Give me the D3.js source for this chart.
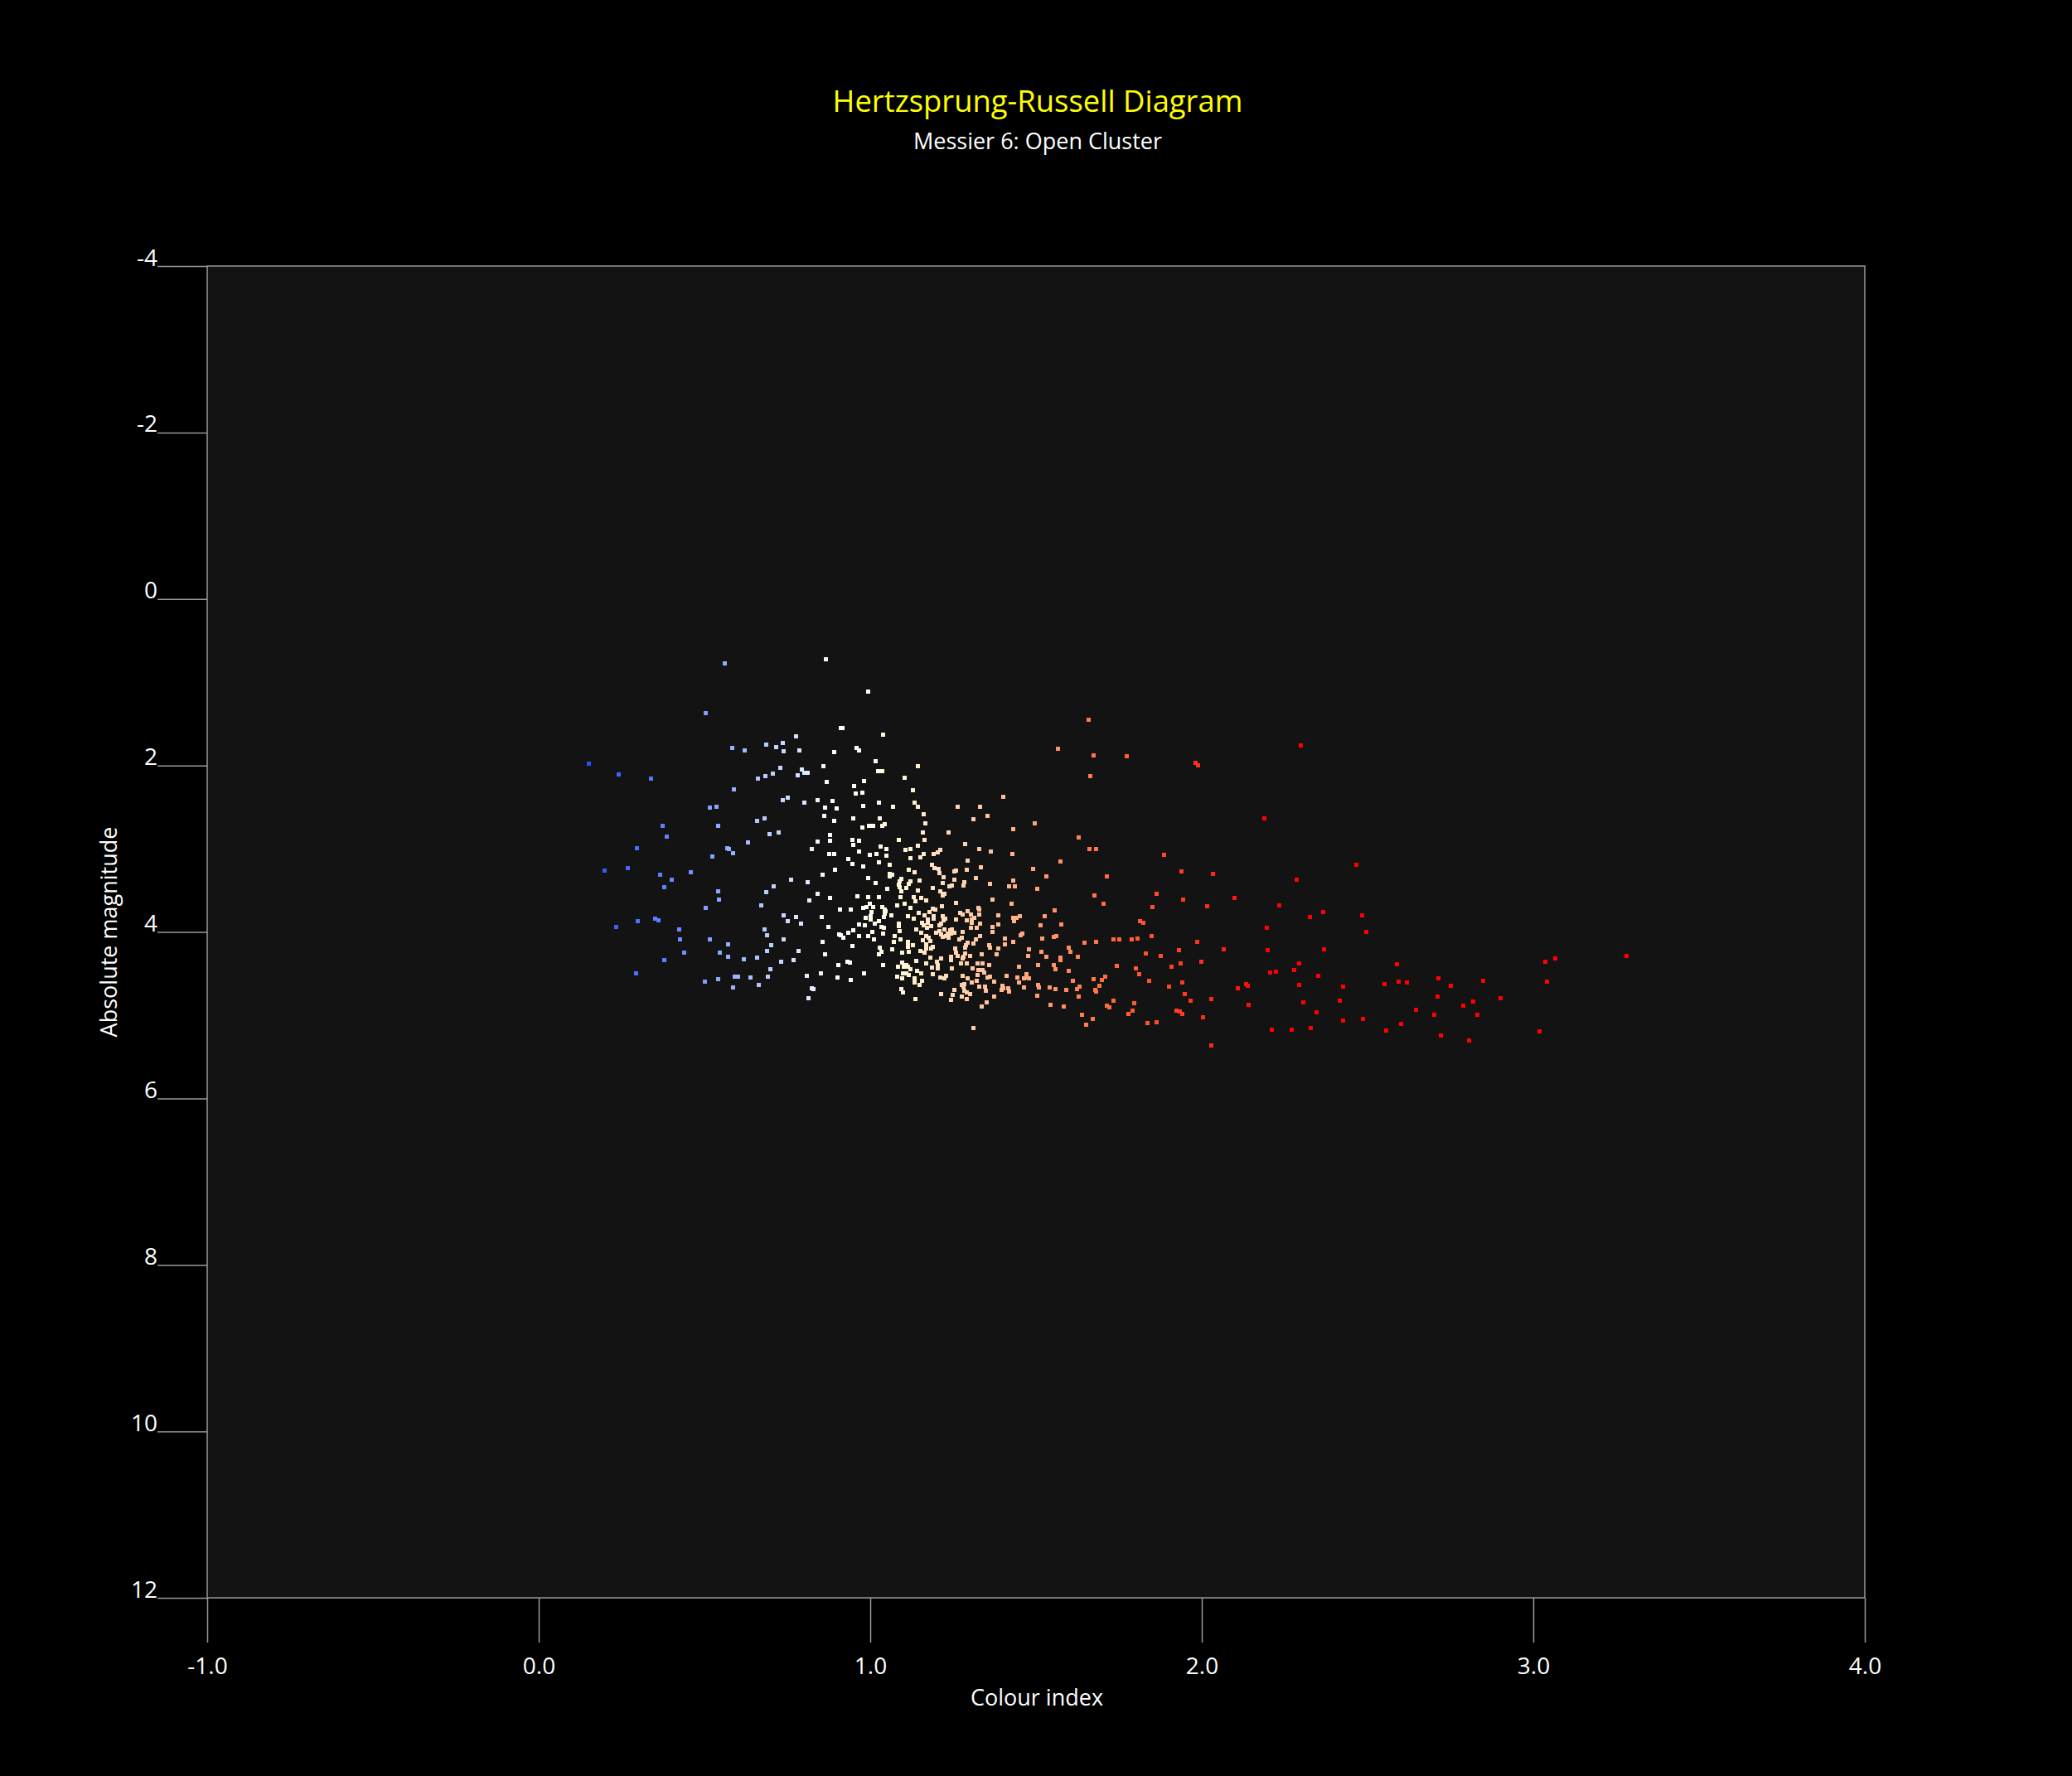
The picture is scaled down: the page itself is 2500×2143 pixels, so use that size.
<!DOCTYPE html>
<html>
<head>
<meta charset="utf-8">
<script src="https://cdn.jsdelivr.net/npm/d3@7"></script>
<style>
  html, body { margin: 0; padding: 0; background: #000; }
  text { font-family: "Open Sans", sans-serif; fill: #fff; }
</style>
</head>
<body>
<div id="chart"></div>
<script>
const titleText = "Hertzsprung-Russell Diagram"
const subtitleText = "Messier 6: Open Cluster"
const xLabelText = "Colour index"
const yLabelText = "Absolute magnitude"

const xTicks = [-1, 0, 1, 2, 3, 4]
const xTickLabels = ["-1.0", "0.0", "1.0", "2.0", "3.0", "4.0"]
const yTicks = [-4, -2, 0, 2, 4, 6, 8, 10, 12]
const yTickLabels = ["-4", "-2", "0", "2", "4", "6", "8", "10", "12"]

// colour index -> star colour
const colourStops = [0, 0.5, 0.9, 1.1, 1.4, 1.7, 2.2]
const colourValues = ["#0030ff", "#7c9cff", "#ffffff", "#fff5d8", "#ffb890", "#ff7040", "#ff0000"]

// [colour index, absolute magnitude]
const stars = [
[.561,.775],[.866,.729],[.993,1.114],[.503,1.373],[.911,1.552],[.917,1.555],[1.038,1.635],[.775,1.652],[.736,1.731],[.686,1.748],
[.717,1.778],[.739,1.834],[.785,1.817],[.583,1.788],[.620,1.817],[.891,1.841],[.959,1.788],[.967,1.824],[1.016,1.944],[.152,1.977],
[.241,2.113],[.339,2.156],[.858,2.007],[1.024,2.066],[1.035,2.066],[.794,2.050],[.801,2.090],[.811,2.086],[.781,2.120],[.728,2.030],
[.707,2.096],[.683,2.133],[.661,2.156],[.868,2.193],[.981,2.186],[.951,2.246],[.955,2.339],[.977,2.329],[.589,2.285],[.737,2.415],
[.752,2.392],[.800,2.451],[.842,2.418],[.885,2.422],[.863,2.504],[.898,2.518],[.979,2.491],[1.025,2.451],[1.069,2.498],[.516,2.511],
[.537,2.495],[.861,2.607],[.891,2.670],[.949,2.634],[1.028,2.631],[1.037,2.724],[1.044,2.707],[.996,2.724],[1.008,2.724],[.977,2.743],
[.682,2.631],[.659,2.670],[.373,2.730],[.542,2.730],[.386,2.853],[.723,2.803],[.696,2.823],[.879,2.836],[.946,2.896],[.965,2.909],
[.878,2.903],[.842,2.913],[.631,2.926],[.948,2.956],
[.296,2.992],[.569,2.992],[.574,3.009],[.586,3.055],[.824,3.009],[.876,3.062],[.891,3.062],[.967,3.039],[1.030,2.976],[1.049,3.009],
[.999,3.075],[1.018,3.069],[1.048,3.085],[.523,3.092],[.934,3.125],[.946,3.181],[.979,3.211],[1.025,3.168],[1.058,3.198],[.268,3.234],
[.198,3.264],[.458,3.281],[.366,3.317],[.402,3.377],[.379,3.467],[.540,3.513],[.544,3.610],[.503,3.709],[.686,3.527],[.709,3.454],
[.762,3.377],[.811,3.400],[.855,3.317],[.894,3.251],[.993,3.351],[1.015,3.417],[1.059,3.307],[1.067,3.317],[1.058,3.337],[1.051,3.487],
[.841,3.543],[.879,3.590],[.815,3.619],[.960,3.573],[.993,3.583],[1.026,3.583],[.671,3.683],[.998,3.663],[.979,3.709],[.989,3.702],
[1.009,3.702],[1.037,3.702],[1.044,3.729],[1.047,3.756],[1.043,3.782],[1.042,3.819],[.908,3.729],[.941,3.729],[1.003,3.766],[1.001,3.815],
[1.001,3.852],[.985,3.832],[1.063,3.805],[.739,3.802],[.777,3.819],[.853,3.825],[.751,3.868],[.791,3.905],[1.025,3.872],[1.013,3.898],
[.966,3.908],[.983,3.921],[.873,3.945],[.351,3.839],[.360,3.858],[.298,3.868],[.233,3.945],[.424,3.968],[.427,4.094],[.515,4.087],
[.681,3.975],[.688,4.041],[.739,4.094],[1.033,3.945],[1.040,3.951],[.948,3.981],[.933,4.011],[.905,4.034],[.911,4.044],[.919,4.071],
[1.006,3.998],[1.038,4.018],[.966,4.051],[.993,4.051],[1.010,4.087],[1.073,4.051],[1.070,4.124],[.857,4.124],[.570,4.147],[.701,4.164],
[.946,4.170],[1.029,4.187],[1.065,4.213],[1.034,4.240],[1.025,4.270],[.688,4.230],[.783,4.230],[.546,4.253],[.438,4.247],[.864,4.270],
[.571,4.300],[.658,4.313],[.618,4.330],[.378,4.336],[.731,4.360],[.769,4.336],[.930,4.356],[.938,4.366],[.903,4.403],[1.038,4.403],
[.698,4.449],[.294,4.502],[.851,4.502],[.982,4.496],[.808,4.532],[.692,4.539],[.638,4.552],[.591,4.539],[.602,4.539],[.902,4.552],
[.942,4.575],[.542,4.569],[.500,4.599],[.663,4.638],[.586,4.668],[.823,4.681],[.828,4.688],[.813,4.794],
[1.106,3.019],[1.121,3.009],[1.143,2.969],[1.190,3.062],[1.203,3.049],[1.211,3.019],[1.161,3.065],[1.152,3.102],[1.121,3.115],[1.328,3.009],
[1.364,3.039],[1.428,3.062],[1.662,3.002],[1.681,3.002],[1.293,3.145],[1.573,3.151],[1.186,3.198],[1.194,3.234],[1.206,3.248],[1.208,3.291],
[1.333,3.221],[1.290,3.258],[1.254,3.278],[1.259,3.268],[1.491,3.248],[1.116,3.258],[1.133,3.288],[1.531,3.331],[1.714,3.331],[1.220,3.347],
[1.319,3.351],[1.253,3.371],[1.148,3.384],[1.093,3.364],[1.088,3.390],[1.087,3.430],[1.088,3.467],[1.093,3.510],[1.122,3.394],[1.117,3.424],
[1.108,3.470],[1.218,3.410],[1.361,3.420],[1.284,3.407],[1.281,3.440],[1.246,3.447],[1.239,3.457],[1.430,3.387],[1.418,3.454],[1.437,3.454],
[1.504,3.483],[1.188,3.473],[1.144,3.500],[1.211,3.513],[1.223,3.540],[1.219,3.560],[1.677,3.566],[1.091,3.583],[1.131,3.583],[1.153,3.593],
[1.137,3.629],[1.168,3.623],[1.368,3.610],[1.103,3.659],[1.082,3.683],[1.258,3.656],[1.427,3.666],[1.703,3.666],[1.122,3.709],[1.216,3.696],
[1.326,3.712],[1.328,3.729],[1.189,3.719],[1.196,3.736],[1.555,3.742],[1.146,3.772],[1.178,3.759],[1.272,3.769],[1.294,3.749],[1.303,3.789],
[1.279,3.789],[1.328,3.792],[1.387,3.802],[1.163,3.799],[1.191,3.809],[1.190,3.842],[1.218,3.812],[1.226,3.839],[1.222,3.862],[1.525,3.809],
[1.113,3.815],[1.131,3.839],[1.173,3.855],[1.173,3.888],[1.156,3.888],[1.161,3.921],[1.183,3.928],[1.171,3.955],[1.258,3.855],[1.292,3.865],
[1.313,3.832],[1.307,3.855],[1.306,3.895],[1.431,3.829],[1.441,3.835],[1.451,3.812],[1.434,3.875],[1.086,3.898],[1.086,3.931],[1.331,3.902],
[1.385,3.915],[1.514,3.921],[1.577,3.915],[1.213,3.905],[1.209,3.921],[1.369,3.938],[1.139,3.968],[1.223,3.975],[1.304,3.955],[1.320,3.948],
[1.088,3.991],[1.153,4.011],[1.198,4.008],[1.208,3.994],[1.213,4.028],[1.219,4.064],[1.229,4.054],[1.233,4.021],[1.240,3.981],[1.246,3.971],
[1.244,4.021],[1.235,4.071],[1.253,4.008],[1.278,3.998],[1.368,3.998],[1.454,4.038],[1.458,4.018],[1.169,4.048],[1.176,4.071],[1.180,4.114],
[1.159,4.097],[1.169,4.147],[1.091,4.094],[1.276,4.067],[1.269,4.087],[1.331,4.051],[1.318,4.094],[1.311,4.141],[1.293,4.127],[1.288,4.164],
[1.287,4.194],[1.406,4.081],[1.405,4.147],[1.430,4.117],[1.519,4.081],[1.554,4.064],[1.561,4.051],[1.647,4.127],[1.682,4.117],[1.113,4.121],
[1.113,4.154],[1.114,4.180],[1.129,4.164],[1.168,4.197],[1.183,4.197],[1.189,4.180],[1.358,4.160],[1.361,4.194],[1.387,4.197],[1.095,4.247],
[1.116,4.240],[1.152,4.227],[1.163,4.253],[1.256,4.204],[1.259,4.247],[1.263,4.293],[1.285,4.260],[1.282,4.300],[1.278,4.320],[1.300,4.293],
[1.336,4.267],[1.381,4.270],[1.478,4.210],[1.517,4.240],[1.476,4.287],[1.531,4.300],[1.598,4.194],[1.603,4.240],[1.626,4.300],[1.573,4.313],
[1.573,4.336],[1.180,4.306],[1.213,4.323],[1.244,4.303],[1.244,4.336],[1.138,4.346],[1.202,4.363],[1.204,4.403],[1.204,4.436],[1.097,4.370],
[1.169,4.383],[1.273,4.376],[1.290,4.376],[1.324,4.383],[1.339,4.383],[1.358,4.399],[1.449,4.419],[1.506,4.396],[1.553,4.399],[1.558,4.446],
[1.084,4.423],[1.100,4.423],[1.108,4.396],[1.114,4.419],[1.122,4.453],[1.186,4.429],[1.141,4.466],[1.247,4.443],[1.309,4.443],[1.325,4.462],
[1.339,4.456],[1.344,4.489],[1.598,4.472],[1.153,4.496],[1.098,4.502],[1.108,4.502],[1.117,4.516],[1.189,4.506],[1.278,4.526],[1.323,4.519],
[1.412,4.526],[1.470,4.506],[1.353,4.552],[1.362,4.539],[1.708,4.539],[1.082,4.539],[1.095,4.562],[1.133,4.555],[1.229,4.526],[1.212,4.549],
[1.223,4.562],[1.293,4.559],[1.443,4.549],[1.464,4.562],[1.471,4.552],[1.478,4.562],[1.673,4.572],[1.698,4.579],[1.612,4.585],[1.156,4.585],
[1.133,4.609],[1.148,4.635],[1.321,4.585],[1.305,4.609],[1.373,4.595],[1.449,4.609],[1.283,4.628],[1.275,4.642],[1.280,4.655],[1.506,4.635],
[1.692,4.652],[1.328,4.662],[1.347,4.662],[1.349,4.708],[1.399,4.645],[1.402,4.678],[1.397,4.698],[1.417,4.678],[1.418,4.715],[1.464,4.668],
[1.508,4.672],[1.540,4.668],[1.558,4.685],[1.591,4.701],[1.623,4.691],[1.631,4.662],[1.679,4.695],[1.681,4.718],[1.093,4.685],[1.098,4.731],
[1.254,4.698],[1.283,4.708],[1.292,4.728],[1.302,4.745],[1.214,4.745],[1.248,4.758],[1.275,4.775],[1.290,4.804],[1.243,4.818],[1.135,4.811],
[1.373,4.781],[1.504,4.764],[1.629,4.778],[1.351,4.844],[1.336,4.901],[1.543,4.874],[1.583,4.894],[1.713,4.891],[1.722,4.904],[1.638,4.994],
[1.671,5.047],[1.652,5.113],[1.311,5.153],
[1.658,1.456],[1.565,1.804],[1.673,1.881],[1.773,1.887],[1.982,1.970],[1.988,1.997],[1.663,2.133],[1.144,2.007],[1.103,2.146],[1.129,2.299],
[1.401,2.382],[1.133,2.451],[1.144,2.498],[1.264,2.498],[1.332,2.498],[1.353,2.607],[1.311,2.641],[1.161,2.587],[1.165,2.697],[1.159,2.803],
[1.235,2.807],[1.431,2.767],[1.495,2.697],[1.629,2.860],[1.086,2.896],[1.163,2.896],[1.286,2.943],
[1.885,3.072],[2.466,3.191],[1.938,3.274],[2.034,3.301],[2.287,3.371],[1.863,3.543],[1.944,3.610],[2.099,3.596],[2.233,3.679],[1.851,3.702],
[2.016,3.696],[2.366,3.762],[2.326,3.822],[2.483,3.802],[2.196,3.951],[2.497,4.004],[1.813,3.868],[1.823,3.888],[1.733,4.087],[1.751,4.094],
[1.788,4.094],[1.806,4.077],[1.848,4.051],[1.985,4.117],[2.199,4.220],[1.930,4.223],[2.066,4.207],[2.369,4.210],[1.831,4.260],[1.875,4.287],
[1.937,4.376],[1.998,4.356],[1.743,4.413],[1.800,4.436],[1.908,4.419],[2.294,4.376],[1.811,4.509],[2.278,4.456],[2.206,4.489],[2.223,4.479],
[2.351,4.532],[1.842,4.592],[1.942,4.609],[1.900,4.662],[2.108,4.678],[2.133,4.628],[2.139,4.652],[2.293,4.638],[2.426,4.662],[1.949,4.751],
[1.733,4.824],[1.796,4.854],[1.967,4.824],[2.028,4.804],[2.417,4.824],[2.307,4.844],[1.790,4.947],[1.778,4.984],[1.924,4.947],[1.933,4.960],
[1.942,4.987],[2.140,4.881],[2.347,4.967],[2.004,5.030],[1.836,5.096],[1.863,5.090],[2.426,5.067],[2.487,5.047],[2.211,5.179],[2.271,5.173],
[2.328,5.159],[2.028,5.362],
[2.588,4.386],[2.713,4.555],[3.281,4.290],[3.065,4.320],[3.037,4.360],[2.551,4.625],[2.593,4.599],[2.619,4.609],[2.849,4.592],[3.040,4.602],
[2.751,4.648],[2.711,4.781],[2.818,4.834],[2.900,4.798],[2.788,4.887],[2.646,4.940],[2.701,4.994],[2.830,5.000],[2.601,5.106],[2.556,5.183],
[2.720,5.242],[2.807,5.302],[3.018,5.196],[2.298,1.757],[2.188,2.640]
]

const width = 2500
const height = 2143
const plot = {left: 250, right: 2250, top: 321, bottom: 1928}
const tickFont = 28
const starSize = 5

let svg = d3.select("#chart").append("svg")
    .attr("width", width)
    .attr("height", height)
    .style("display", "block")

let x = d3.scaleLinear().domain([-1, 4]).range([plot.left, plot.right])
let y = d3.scaleLinear().domain([-4, 12]).range([plot.top, plot.bottom])
let colour = d3.scaleLinear().domain(colourStops).range(colourValues).clamp(true)

svg.append("rect")
    .attr("x", plot.left)
    .attr("y", plot.top)
    .attr("width", plot.right - plot.left)
    .attr("height", plot.bottom - plot.top)
    .attr("fill", "#131313")

let xAxis = svg.append("g")
    .attr("transform", `translate(0,${plot.bottom})`)
    .call(d3.axisBottom(x).tickValues(xTicks).tickSize(54).tickFormat((d, i) => xTickLabels[i]))
xAxis.select(".domain").remove()
xAxis.selectAll("line").attr("stroke", "#999").attr("stroke-width", 1.5)
xAxis.selectAll("text")
    .attr("y", 92)
    .attr("dy", 0)
    .attr("dx", 0)
    .style("font-size", tickFont + "px")

let yAxis = svg.append("g")
    .attr("transform", `translate(${plot.left},0)`)
    .call(d3.axisLeft(y).tickValues(yTicks).tickSize(60).tickFormat((d, i) => yTickLabels[i]))
yAxis.select(".domain").remove()
yAxis.selectAll("line").attr("stroke", "#999").attr("stroke-width", 1.5)
yAxis.selectAll("text")
    .attr("x", -60)
    .attr("dy", 0)
    .attr("y", -1)
    .style("font-size", tickFont + "px")

// plot frame, over the axes: top and bottom lines run on from the ticks
svg.append("rect")
    .attr("x", plot.left)
    .attr("y", plot.top)
    .attr("width", plot.right - plot.left)
    .attr("height", plot.bottom - plot.top)
    .attr("fill", "none")
    .attr("stroke", "#999")
    .attr("stroke-width", 1.5)

svg.append("g").selectAll("rect")
    .data(stars)
  .enter().append("rect")
    .attr("x", d => x(d[0]) - starSize / 2)
    .attr("y", d => y(d[1]) - starSize / 2)
    .attr("width", starSize)
    .attr("height", starSize)
    .attr("shape-rendering", "crispEdges")
    .attr("fill", d => colour(d[0]))

svg.append("text")
    .attr("x", width / 2 + 2)
    .attr("y", 135)
    .attr("text-anchor", "middle")
    .style("font-size", "36.4px")
    .style("fill", "#ffff00")
    .text(titleText)

svg.append("text")
    .attr("x", width / 2 + 2)
    .attr("y", 180)
    .attr("text-anchor", "middle")
    .style("font-size", "27px")
    .text(subtitleText)

svg.append("text")
    .attr("x", width / 2 + 1)
    .attr("y", 2058)
    .attr("text-anchor", "middle")
    .style("font-size", "27px")
    .text(xLabelText)

svg.append("text")
    .attr("transform", `translate(141,${(plot.top + plot.bottom) / 2}) rotate(-90)`)
    .attr("text-anchor", "middle")
    .style("font-size", "27px")
    .text(yLabelText)
</script>
</body>
</html>
